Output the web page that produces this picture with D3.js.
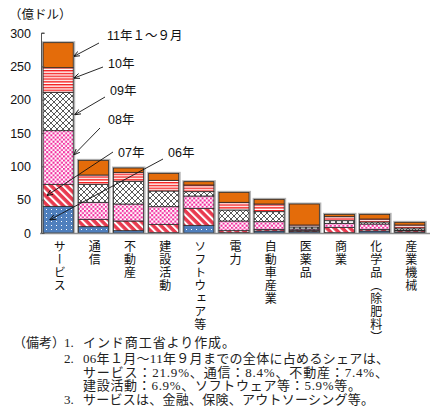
<!doctype html>
<html lang="ja">
<head>
<meta charset="utf-8" />
<title>インド 業種別対内直接投資</title>
<script src="https://d3js.org/d3.v7.min.js"></script>
<style>
  body { margin: 0; background: #fff; }
  svg { display: block; }
  text { font-family: "Liberation Sans", "Noto Sans CJK JP", sans-serif; fill: #111; }
  .note { font-family: "Liberation Serif", "Noto Sans CJK JP", serif; fill: #222; }
</style>
</head>
<body>
<svg></svg>
<script>
// data (億ドル)
const categories = ["サービス", "通信", "不動産", "建設活動", "ソフトウェア等", "電力",
                    "自動車産業", "医薬品", "商業", "化学品（除肥料）", "産業機械"];
const seriesNames = ["06年", "07年", "08年", "09年", "10年", "11年１～９月"];
const y06 = [40, 9.5, 3.5, 0.5, 11.5, 0.5, 3, 2, 0.5, 3, 1.5];
const y07 = [33, 11, 14.5, 12.5, 25.5, 3, 2.5, 2, 8, 2.5, 2];
const y08 = [80.5, 25.5, 25.5, 26.5, 18.5, 14.5, 11.5, 2, 6, 8, 1];
const y09 = [57.5, 27, 34, 23.5, 6.5, 16.5, 15, 3, 4, 3, 3];
const y10 = [37, 14, 13.5, 16, 10, 11.5, 11.5, 3, 6, 4.5, 4.5];
const y11 = [37.5, 22, 6.5, 10.5, 5, 15, 7, 31.5, 3.5, 7, 4];
const yTicks = [0, 50, 100, 150, 200, 250, 300];

const notes = [
  ["（備考）", "1.", "インド商工省より作成。"],
  ["", "2.", "06年１月～11年９月までの全体に占めるシェアは、"],
  ["", "", "サービス：21.9%、通信：8.4%、不動産：7.4%、"],
  ["", "", "建設活動：6.9%、ソフトウェア等：5.9%等。"],
  ["", "3.", "サービスは、金融、保険、アウトソーシング等。"]
];

const allSeries = [y06, y07, y08, y09, y10, y11];
const table = categories.map((c, i) => {
  const row = { cat: c };
  seriesNames.forEach((s, j) => row[s] = allSeries[j][i]);
  return row;
});

const width = 437, height = 417;
const svg = d3.select("svg").attr("width", width).attr("height", height);

// patterns
const defs = svg.append("defs");
function pat(id, w, h, draw, transform) {
  const p = defs.append("pattern").attr("id", id)
      .attr("patternUnits", "userSpaceOnUse")
      .attr("width", w).attr("height", h);
  if (transform) p.attr("patternTransform", transform);
  draw(p);
}
pat("p06", 5, 4, p => {
  p.append("rect").attr("width", 5).attr("height", 4).attr("fill", "#4f7fbd");
  p.append("rect").attr("x", 1).attr("y", 1).attr("width", 1).attr("height", 1).attr("fill", "#fff");
});
pat("p07", 5.5, 6, p => {
  p.append("rect").attr("width", 5.5).attr("height", 6).attr("fill", "#e83a4f");
  p.append("rect").attr("width", 2).attr("height", 6).attr("fill", "#fff");
}, "rotate(-45)");
pat("p08", 4.2, 4.2, p => {
  p.append("rect").attr("width", 4.2).attr("height", 4.2).attr("fill", "#fff");
  p.append("rect").attr("width", 2).attr("height", 2).attr("fill", "#f2289c");
  p.append("rect").attr("x", 2.1).attr("y", 2.1).attr("width", 2).attr("height", 2).attr("fill", "#f2289c");
});
pat("p09", 6, 6, p => {
  p.append("rect").attr("width", 6).attr("height", 6).attr("fill", "#fff");
  p.append("path").attr("d", "M0,0L6,6M6,0L0,6").attr("stroke", "#111").attr("stroke-width", 0.7);
});
pat("p10", 6, 2.8, p => {
  p.append("rect").attr("width", 6).attr("height", 2.8).attr("fill", "#fff");
  p.append("rect").attr("width", 6).attr("height", 1.4).attr("fill", "#f52020");
});
const fills = ["url(#p06)", "url(#p07)", "url(#p08)", "url(#p09)", "url(#p10)", "#e46c0a"];

// scales
const x = d3.scaleBand().domain(categories).range([40, 428])
    .paddingInner(0.145).paddingOuter(0.09);
const y = d3.scaleLinear().domain([0, 300]).range([233, 33]);

const stacked = d3.stack().keys(seriesNames)(table);

// bar shadows
svg.append("g").selectAll("rect")
  .data(table)
  .join("rect")
    .attr("x", d => x(d.cat) - 0.5)
    .attr("y", d => y(d3.sum(seriesNames, s => d[s])) - 0.5)
    .attr("width", x.bandwidth() + 1.5)
    .attr("height", d => y(0) - y(d3.sum(seriesNames, s => d[s])) + 0.5)
    .attr("fill", "none")
    .attr("stroke", "#b5b5b5")
    .attr("stroke-width", 2);

svg.append("g").selectAll("g")
  .data(stacked)
  .join("g")
    .attr("fill", (d, i) => fills[i])
  .selectAll("rect")
  .data(d => d)
  .join("rect")
    .attr("x", d => x(d.data.cat))
    .attr("y", d => y(d[1]))
    .attr("width", x.bandwidth())
    .attr("height", d => y(d[0]) - y(d[1]))
    .attr("stroke", "#2a2a2a")
    .attr("stroke-width", 0.8);

// axes
svg.append("line")
    .attr("x1", 40).attr("x2", 430)
    .attr("y1", y(0) + 0.5).attr("y2", y(0) + 0.5)
    .attr("stroke", "#8c8c8c").attr("stroke-width", 1.6);

const yAxis = svg.append("g")
    .attr("transform", "translate(41.5,0)")
    .call(d3.axisRight(y).tickValues(yTicks).tickSize(3).tickFormat(""));
yAxis.select(".domain").attr("stroke", "#555").attr("d", `M3,${y(300)}H0V${y(0)}`);
yAxis.selectAll(".tick line").attr("stroke", "#555");

svg.append("g").selectAll("text")
  .data(yTicks)
  .join("text")
    .attr("x", 31)
    .attr("y", d => y(d) + 4.5)
    .attr("text-anchor", "end")
    .attr("font-size", 12.5)
    .text(d => d);

svg.append("text")
    .attr("x", 9).attr("y", 19)
    .attr("font-size", 12.5)
    .text("（億ドル）");

// category labels (vertical)
svg.append("g").selectAll("text")
  .data(categories)
  .join("text")
    .attr("x", d => x(d) + x.bandwidth() / 2)
    .attr("y", 240)
    .attr("font-size", 12)
    .style("writing-mode", "vertical-rl")
    .style("text-orientation", "upright")
    .style("letter-spacing", "1px")
    .text(d => d);

// series labels with arrows pointing into the first bar
const first = stacked.map(s => s[0]);
const labelPos = [
  { lx: 168, ly: 152, sx: 163, sy: 159, dx: 7,  dy: 0 },
  { lx: 118, ly: 152, sx: 113, sy: 152, dx: 4,  dy: 0 },
  { lx: 108, ly: 119, sx: 100, sy: 128, dx: 31, dy: -3 },
  { lx: 110, ly: 90,  sx: 105, sy: 97,  dx: 32, dy: 3 },
  { lx: 108, ly: 63,  sx: 103, sy: 67,  dx: 31, dy: -2 },
  { lx: 107, ly: 35,  sx: 99,  sy: 43,  dx: 31, dy: 1 }
];
defs.append("marker").attr("id", "arr")
    .attr("viewBox", "0 0 10 10").attr("refX", 9).attr("refY", 5)
    .attr("markerWidth", 7).attr("markerHeight", 7)
    .attr("orient", "auto")
  .append("path").attr("d", "M0,1L10,5L0,9").attr("fill", "none")
    .attr("stroke", "#111").attr("stroke-width", 1.4);

const ann = svg.append("g");
labelPos.forEach((p, i) => {
  const seg = first[i];
  const ty = (y(seg[0]) + y(seg[1])) / 2 + p.dy;
  ann.append("line")
      .attr("x1", p.sx).attr("y1", p.sy)
      .attr("x2", x(categories[0]) + p.dx).attr("y2", ty)
      .attr("stroke", "#111").attr("stroke-width", 0.9)
      .attr("marker-end", "url(#arr)");
  ann.append("text")
      .attr("x", p.lx).attr("y", p.ly + 4.5)
      .attr("font-size", 12.5)
      .text(seriesNames[i]);
});

// notes
const ng = svg.append("g").attr("class", "notes");
const noteY = [342, 358, 372, 385.5, 399];
const noteLen = [152, 306, 305, 278, 291];
notes.forEach((n, i) => {
  ng.append("text").attr("class", "note").attr("x", 13).attr("y", noteY[i] + 4.5)
      .attr("font-size", 13).text(n[0]);
  ng.append("text").attr("class", "note").attr("x", 64).attr("y", noteY[i] + 4.5)
      .attr("font-size", 13).text(n[1]);
  ng.append("text").attr("class", "note").attr("x", 83).attr("y", noteY[i] + 4.5)
      .attr("font-size", 13)
      .attr("textLength", noteLen[i]).attr("lengthAdjust", "spacing")
      .text(n[2]);
});
</script>
</body>
</html>
